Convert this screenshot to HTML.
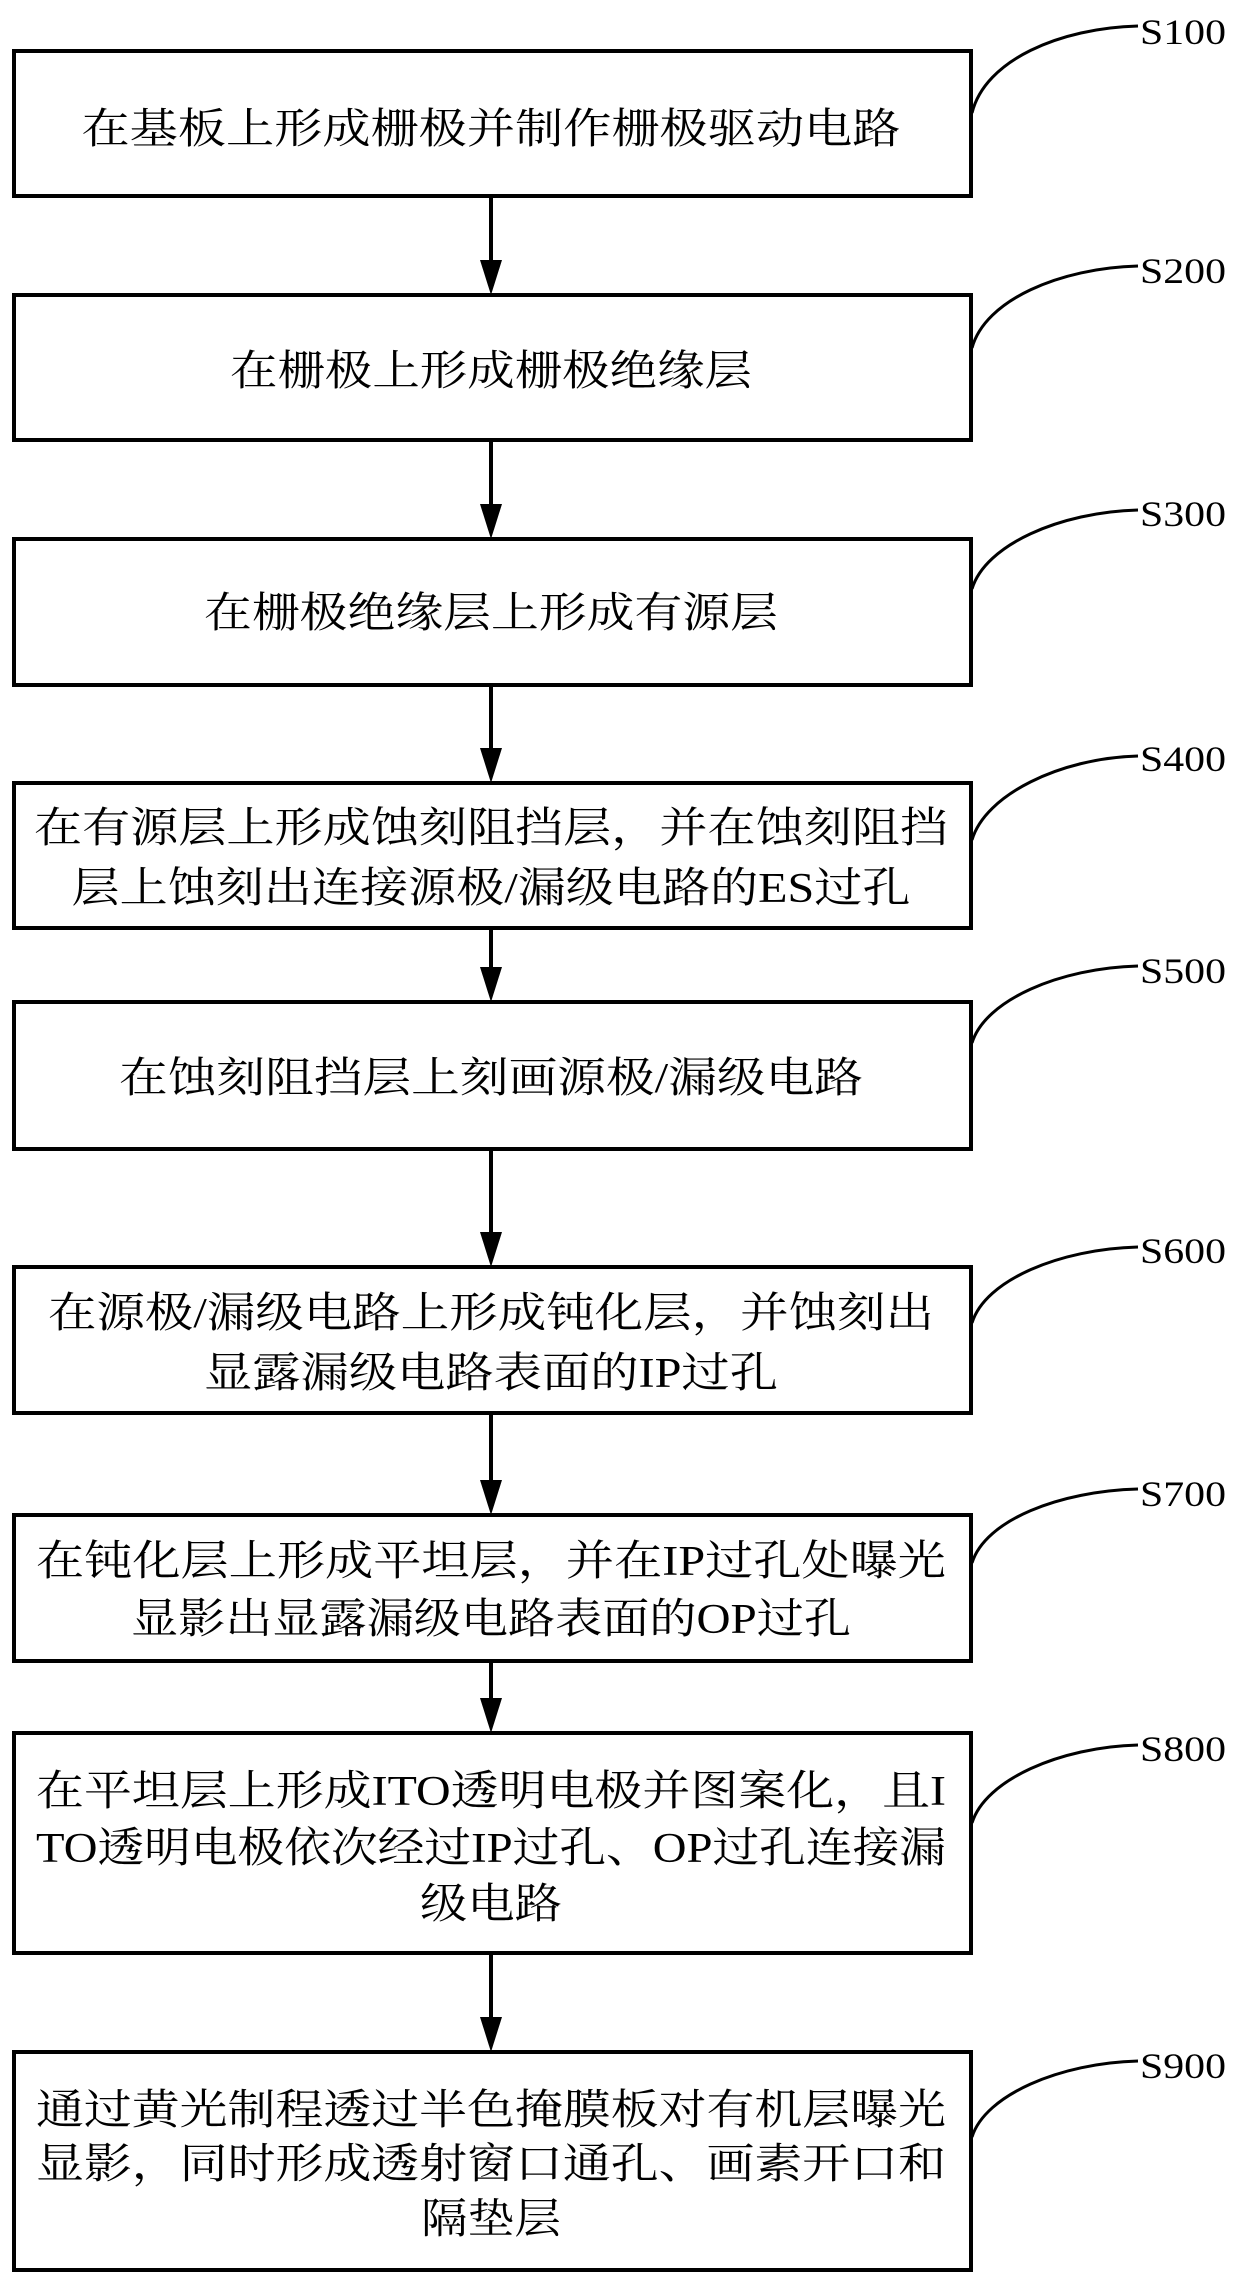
<!DOCTYPE html>
<html><head><meta charset="utf-8"><style>
html,body{margin:0;padding:0;background:#fff;}
svg{display:block;}
.t{font-family:"Liberation Serif","Noto Serif CJK SC",serif;font-size:42px;fill:#000;}
.l{font-family:"Liberation Serif",serif;font-size:36px;fill:#000;}
</style></head><body>
<svg width="1240" height="2284" viewBox="0 0 1240 2284" xmlns="http://www.w3.org/2000/svg">
<g fill="none" stroke="#000" stroke-width="4">
<rect x="14" y="51" width="957" height="145"/>
<rect x="14" y="295" width="957" height="145"/>
<rect x="14" y="539" width="957" height="146"/>
<rect x="14" y="783" width="957" height="145"/>
<rect x="14" y="1002" width="957" height="147"/>
<rect x="14" y="1267" width="957" height="146"/>
<rect x="14" y="1515" width="957" height="146"/>
<rect x="14" y="1733" width="957" height="220"/>
<rect x="14" y="2052" width="957" height="218"/>
</g>
<g stroke="#000" stroke-width="4">
<line x1="491" y1="198" x2="491" y2="265"/>
<line x1="491" y1="442" x2="491" y2="509"/>
<line x1="491" y1="687" x2="491" y2="753"/>
<line x1="491" y1="930" x2="491" y2="972"/>
<line x1="491" y1="1151" x2="491" y2="1237"/>
<line x1="491" y1="1415" x2="491" y2="1485"/>
<line x1="491" y1="1663" x2="491" y2="1703"/>
<line x1="491" y1="1955" x2="491" y2="2022"/>
</g>
<g fill="#000">
<polygon points="480,260 502,260 491,295"/>
<polygon points="480,504 502,504 491,539"/>
<polygon points="480,748 502,748 491,783"/>
<polygon points="480,967 502,967 491,1002"/>
<polygon points="480,1232 502,1232 491,1267"/>
<polygon points="480,1480 502,1480 491,1515"/>
<polygon points="480,1698 502,1698 491,1733"/>
<polygon points="480,2017 502,2017 491,2052"/>
</g>
<g fill="none" stroke="#000" stroke-width="3">
<path d="M972,113 C985,60 1060,28 1138,26"/>
<path d="M972,348 C985,300 1060,268 1138,266"/>
<path d="M972,589 C985,545 1060,512 1138,510"/>
<path d="M972,840 C985,795 1060,758 1138,756"/>
<path d="M972,1043 C985,1000 1060,968 1138,966"/>
<path d="M972,1323 C985,1280 1060,1249 1138,1247"/>
<path d="M972,1563 C985,1520 1060,1491 1138,1489"/>
<path d="M972,1823 C985,1780 1060,1747 1138,1745"/>
<path d="M972,2137 C985,2095 1060,2063 1138,2061"/>
</g>
<g class="l">
<text x="1140" y="44" textLength="86" lengthAdjust="spacingAndGlyphs">S100</text>
<text x="1140" y="283" textLength="86" lengthAdjust="spacingAndGlyphs">S200</text>
<text x="1140" y="526" textLength="86" lengthAdjust="spacingAndGlyphs">S300</text>
<text x="1140" y="771" textLength="86" lengthAdjust="spacingAndGlyphs">S400</text>
<text x="1140" y="983" textLength="86" lengthAdjust="spacingAndGlyphs">S500</text>
<text x="1140" y="1263" textLength="86" lengthAdjust="spacingAndGlyphs">S600</text>
<text x="1140" y="1506" textLength="86" lengthAdjust="spacingAndGlyphs">S700</text>
<text x="1140" y="1761" textLength="86" lengthAdjust="spacingAndGlyphs">S800</text>
<text x="1140" y="2078" textLength="86" lengthAdjust="spacingAndGlyphs">S900</text>
</g>
<g class="t" text-anchor="middle">
<text x="491" y="143" textLength="819" lengthAdjust="spacingAndGlyphs">在基板上形成栅极并制作栅极驱动电路</text>
<text x="491" y="385" textLength="522" lengthAdjust="spacingAndGlyphs">在栅极上形成栅极绝缘层</text>
<text x="491" y="627" textLength="574" lengthAdjust="spacingAndGlyphs">在栅极绝缘层上形成有源层</text>
<text x="491" y="842" textLength="914" lengthAdjust="spacingAndGlyphs">在有源层上形成蚀刻阻挡层，并在蚀刻阻挡</text>
<text x="491" y="902" textLength="839" lengthAdjust="spacingAndGlyphs">层上蚀刻出连接源极/漏级电路的ES过孔</text>
<text x="491" y="1092" textLength="744" lengthAdjust="spacingAndGlyphs">在蚀刻阻挡层上刻画源极/漏级电路</text>
<text x="491" y="1327" textLength="886" lengthAdjust="spacingAndGlyphs">在源极/漏级电路上形成钝化层，并蚀刻出</text>
<text x="491" y="1387" textLength="574" lengthAdjust="spacingAndGlyphs">显露漏级电路表面的IP过孔</text>
<text x="491" y="1575" textLength="910" lengthAdjust="spacingAndGlyphs">在钝化层上形成平坦层，并在IP过孔处曝光</text>
<text x="491" y="1633" textLength="720" lengthAdjust="spacingAndGlyphs">显影出显露漏级电路表面的OP过孔</text>
<text x="491" y="1805" textLength="910" lengthAdjust="spacingAndGlyphs">在平坦层上形成ITO透明电极并图案化，且I</text>
<text x="491" y="1862" textLength="910" lengthAdjust="spacingAndGlyphs">TO透明电极依次经过IP过孔、OP过孔连接漏</text>
<text x="491" y="1918" textLength="142" lengthAdjust="spacingAndGlyphs">级电路</text>
<text x="491" y="2124" textLength="910" lengthAdjust="spacingAndGlyphs">通过黄光制程透过半色掩膜板对有机层曝光</text>
<text x="491" y="2178" textLength="910" lengthAdjust="spacingAndGlyphs">显影，同时形成透射窗口通孔、画素开口和</text>
<text x="491" y="2233" textLength="140" lengthAdjust="spacingAndGlyphs">隔垫层</text>
</g>
</svg>
</body></html>
